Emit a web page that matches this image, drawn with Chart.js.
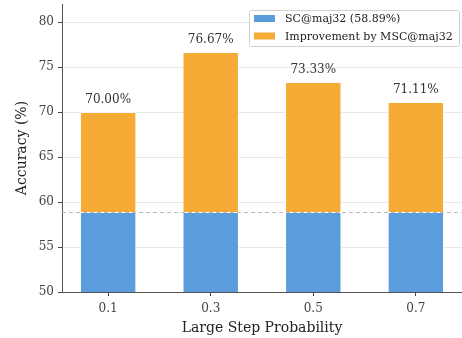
<!DOCTYPE html>
<html>
<head>
<meta charset="utf-8">
<script src="https://cdn.jsdelivr.net/npm/chart.js@4"></script>
<style>
  html, body { margin: 0; padding: 0; background: #fff; }
  #wrap { width: 462px; height: 338px; }
</style>
</head>
<body>
<div id="wrap"><canvas id="accChart" width="462" height="338"></canvas></div>
<script>
// Data
const stepProbs = ['0.1', '0.3', '0.5', '0.7'];
const scBaseline = 58.89;
const mscTotals = [70.00, 76.67, 73.33, 71.11];
const yTicks = [50, 55, 60, 65, 70, 75, 80];

const baseData = stepProbs.map((p, i) => ({ x: i, y: scBaseline }));
const gainData = stepProbs.map((p, i) => ({ x: i, y: mscTotals[i] - scBaseline }));

const FONT = "'DejaVu Serif', serif";
const blue = '#5b9cdc';
const orange = '#f5ab36';

// dashed baseline, value labels and boxed legend
const overlay = {
    id: 'overlay',
    afterDatasetsDraw(chart) {
        const { ctx, chartArea, scales } = chart;
        ctx.save();
        const yb = Math.round(scales.y.getPixelForValue(scBaseline)) + 0.5;
        ctx.strokeStyle = 'rgba(185,185,185,0.95)';
        ctx.lineWidth = 1;
        ctx.setLineDash([4, 3]);
        ctx.beginPath();
        ctx.moveTo(chartArea.left, yb);
        ctx.lineTo(chartArea.right, yb);
        ctx.stroke();
        ctx.setLineDash([]);

        ctx.fillStyle = '#333';
        ctx.font = '12px ' + FONT;
        ctx.textAlign = 'center';
        ctx.textBaseline = 'bottom';
        mscTotals.forEach((v, i) => {
            const x = scales.x.getPixelForValue(i);
            const y = scales.y.getPixelForValue(v);
            ctx.fillText(v.toFixed(2) + '%', x, y - 6);
        });

        // legend
        const bx = 249, by = 10, bw = 210, bh = 36;
        ctx.fillStyle = 'rgba(255,255,255,0.85)';
        ctx.strokeStyle = '#d0d0d0';
        ctx.beginPath();
        ctx.roundRect(bx + 0.5, by + 0.5, bw, bh, 2);
        ctx.fill();
        ctx.stroke();
        ctx.font = '11px ' + FONT;
        ctx.textAlign = 'left';
        ctx.textBaseline = 'middle';
        chart.data.datasets.forEach((ds, i) => {
            const ly = by + 8.5 + i * 17.5;
            ctx.fillStyle = ds.backgroundColor;
            ctx.fillRect(bx + 5, ly - 3.5, 21, 7);
            ctx.fillStyle = '#222';
            ctx.fillText(ds.label, bx + 36, ly + 1);
        });
        ctx.restore();
    }
};

new Chart(document.getElementById('accChart'), {
    type: 'bar',
    data: {
        datasets: [
            {
                label: 'SC@maj32 (' + scBaseline.toFixed(2) + '%)',
                data: baseData,
                backgroundColor: blue,
                borderColor: 'rgba(255,255,255,0.6)',
                borderWidth: 1,
                barPercentage: 0.55,
                categoryPercentage: 1.0
            },
            {
                label: 'Improvement by MSC@maj32',
                data: gainData,
                backgroundColor: orange,
                borderColor: 'rgba(255,255,255,0.6)',
                borderWidth: 1,
                barPercentage: 0.55,
                categoryPercentage: 1.0
            }
        ]
    },
    options: {
        responsive: false,
        animation: false,
        layout: { padding: { top: 4, right: 0, left: 0, bottom: 0 } },
        plugins: {
            legend: { display: false },
            tooltip: { enabled: false }
        },
        scales: {
            x: {
                type: 'linear',
                stacked: true,
                offset: false,
                min: -0.45,
                max: 3.45,
                afterBuildTicks: (s) => { s.ticks = stepProbs.map((p, i) => ({ value: i })); },
                afterFit: (s) => { s.height = 46; s.paddingLeft = 0; s.paddingRight = 0; },
                ticks: {
                    callback: (v) => stepProbs[v],
                    color: '#444',
                    font: { family: FONT, size: 12 },
                    padding: 6
                },
                grid: { offset: false, drawOnChartArea: false, tickColor: '#444', tickLength: 4 },
                border: { display: true, color: '#555', width: 1 },
                title: {
                    display: true,
                    text: 'Large Step Probability',
                    color: '#222',
                    font: { family: FONT, size: 14 },
                    padding: { top: 8, bottom: 1 }
                }
            },
            y: {
                stacked: true,
                min: 50,
                max: 82,
                afterBuildTicks: (s) => { s.ticks = yTicks.map(v => ({ value: v })); },
                afterFit: (s) => { s.width = 62; s.paddingTop = 0; s.paddingBottom = 0; },
                ticks: {
                    color: '#444',
                    font: { family: FONT, size: 12 },
                    padding: 4
                },
                grid: { color: '#e8e8e8', tickColor: '#444', tickLength: 4 },
                border: { display: true, color: '#555', width: 1 },
                title: {
                    display: true,
                    text: 'Accuracy (%)',
                    color: '#222',
                    font: { family: FONT, size: 14 },
                    padding: { top: 14, bottom: 4 }
                }
            }
        }
    },
    plugins: [overlay]
});
</script>
</body>
</html>
